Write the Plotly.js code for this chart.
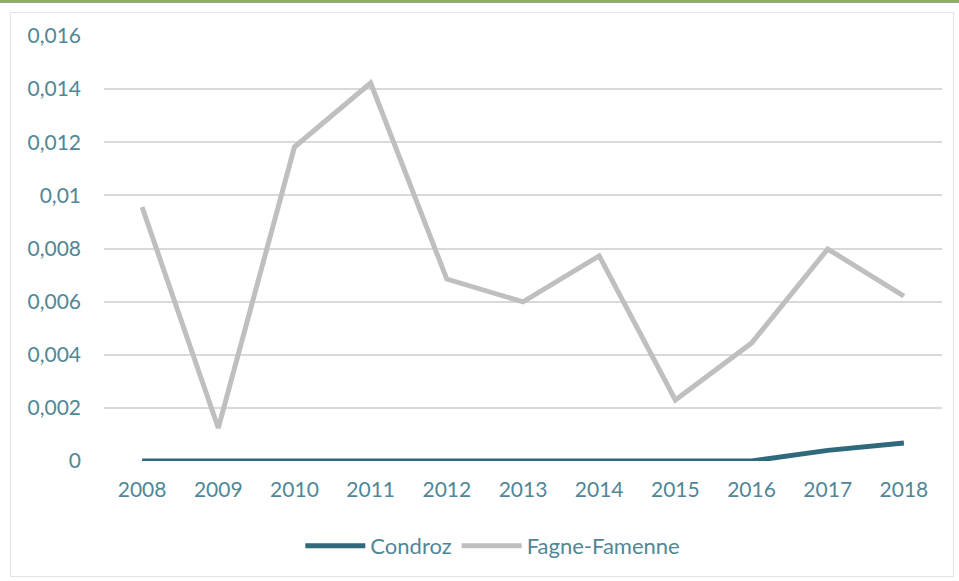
<!DOCTYPE html>
<html>
<head>
<meta charset="utf-8">
<script src="https://cdn.plot.ly/plotly-3.0.1.min.js"></script>
<style>
  html, body { margin: 0; padding: 0; background: #fff; }
  body { border-top: 3px solid #8fad67; width: 959px; height: 578px; overflow: hidden; }
  #frame { position: absolute; left: 10px; top: 12px; width: 944px; height: 565px; border: 1px solid #e3e3e3; box-sizing: border-box; }
  #chart { position: absolute; left: 0; top: 0; width: 959px; height: 581px; }
</style>
</head>
<body>
<div id="frame"></div>
<div id="chart"></div>
<script>
// années
var annees = ['2008', '2009', '2010', '2011', '2012', '2013', '2014', '2015', '2016', '2017', '2018'];

// valeurs
var condroz = [0, 0, 0, 0, 0, 0, 0, 0, 0, 0.0004, 0.00068];
var fagneFamenne = [0.00956, 0.00124, 0.01182, 0.01423, 0.00685, 0.00599, 0.00772, 0.0023, 0.00444, 0.00798, 0.00621];

var yTicks = [0, 0.002, 0.004, 0.006, 0.008, 0.01, 0.012, 0.014, 0.016];
var yLabels = ['0', '0,002', '0,004', '0,006', '0,008', '0,01', '0,012', '0,014', '0,016'];

var traceCondroz = {
    x: annees,
    y: condroz,
    name: 'Condroz',
    mode: 'lines',
    type: 'scatter',
    line: {color: '#2f6a7c', width: 5}
};

var traceFagne = {
    x: annees,
    y: fagneFamenne,
    name: 'Fagne-Famenne',
    mode: 'lines',
    type: 'scatter',
    line: {color: '#bfbfbf', width: 5}
};

var data = [traceFagne, traceCondroz];

var layout = {
    width: 959,
    height: 581,
    paper_bgcolor: 'rgba(0,0,0,0)',
    plot_bgcolor: 'rgba(0,0,0,0)',
    margin: {l: 104, r: 17, t: 36, b: 120},
    font: {family: 'Lato, "Open Sans", sans-serif', size: 21, color: '#4f8797'},
    separators: ', ',
    showlegend: true,
    legend: {
        orientation: 'h',
        x: 0.464, xanchor: 'center',
        y: -0.2, yanchor: 'middle',
        traceorder: 'reversed',
        font: {size: 22, color: '#4f8797'},
        itemwidth: 60
    },
    xaxis: {
        type: 'category',
        range: [-0.5, 10.5],
        showgrid: false,
        showline: false,
        ticks: '',
        ticklabelstandoff: 14
    },
    yaxis: {
        range: [0, 0.016],
        tickvals: yTicks,
        ticktext: yLabels,
        gridcolor: '#d9d9d9',
        gridwidth: 2,
        zeroline: false,
        showline: false,
        ticks: '',
        ticklabelstandoff: 22
    }
};

var config = {displayModeBar: false, staticPlot: true};

Plotly.newPlot('chart', data, layout, config);
</script>
</body>
</html>
